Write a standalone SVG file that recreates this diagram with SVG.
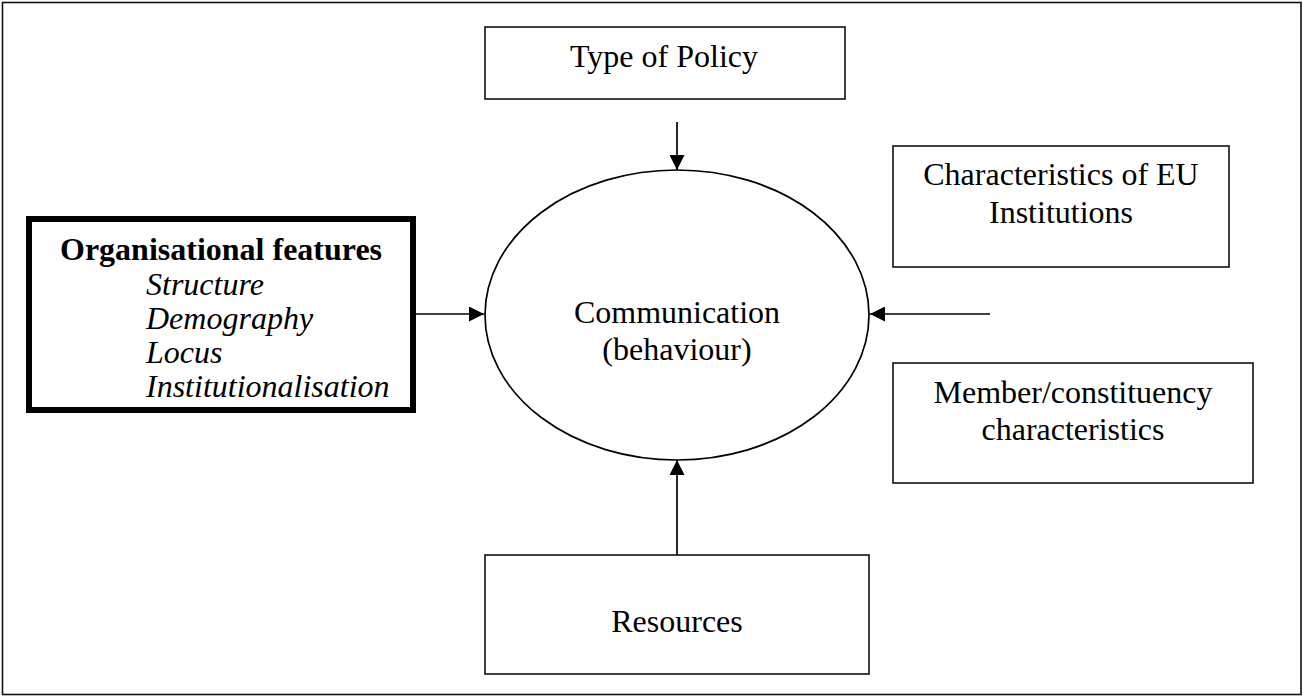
<svg xmlns="http://www.w3.org/2000/svg" width="1303" height="698" viewBox="0 0 1303 698">
<defs>
<style>
.box{fill:#fff;stroke:#111;stroke-width:1.6}
.t{font-family:"Liberation Serif","Times New Roman",serif;font-size:32px;fill:#000}
.c{text-anchor:middle}
.ln{stroke:#000;stroke-width:1.7;fill:none}
</style>
<marker id="ah" viewBox="0 0 15 15" refX="15" refY="7.5" markerWidth="15" markerHeight="15" markerUnits="userSpaceOnUse" orient="auto">
<path d="M0,0 L15,7.5 L0,15 Z" fill="#000"/>
</marker>
</defs>
<rect x="0" y="0" width="1303" height="698" fill="#fff"/>
<rect x="2.5" y="2.5" width="1298.5" height="692" fill="none" stroke="#111" stroke-width="1.6"/>
<g id="connectors">
<line class="ln" x1="677" y1="122" x2="677" y2="170" marker-end="url(#ah)"/>
<line class="ln" x1="416" y1="314" x2="484" y2="314" marker-end="url(#ah)"/>
<line class="ln" x1="990" y1="314" x2="870" y2="314" marker-end="url(#ah)"/>
<line class="ln" x1="677" y1="555" x2="677" y2="460" marker-end="url(#ah)"/>
</g>
<g id="type-of-policy">
<rect class="box" x="485" y="27" width="360" height="72"/>
<text class="t c" x="664" y="67">Type of Policy</text>
</g>
<g id="communication">
<ellipse cx="677" cy="315" rx="192" ry="145" fill="#fff" stroke="#000" stroke-width="1.7"/>
<text class="t c" x="677" y="323">Communication</text>
<text class="t c" x="677" y="360">(behaviour)</text>
</g>
<g id="organisational-features">
<rect x="29" y="219" width="384" height="191" fill="#fff" stroke="#000" stroke-width="6"/>
<text class="t" x="60" y="260" font-weight="bold">Organisational features</text>
<text class="t" x="146" y="295" font-style="italic">Structure</text>
<text class="t" x="146" y="329" font-style="italic">Demography</text>
<text class="t" x="146" y="363" font-style="italic">Locus</text>
<text class="t" x="146" y="397" font-style="italic">Institutionalisation</text>
</g>
<g id="eu-institutions">
<rect class="box" x="893" y="146" width="336" height="121"/>
<text class="t c" x="1061" y="185">Characteristics of EU</text>
<text class="t c" x="1061" y="223">Institutions</text>
</g>
<g id="member-characteristics">
<rect class="box" x="893" y="363" width="360" height="120"/>
<text class="t c" x="1073" y="403">Member/constituency</text>
<text class="t c" x="1073" y="440">characteristics</text>
</g>
<g id="resources">
<rect class="box" x="485" y="555" width="384" height="119"/>
<text class="t c" x="677" y="632">Resources</text>
</g>
</svg>
